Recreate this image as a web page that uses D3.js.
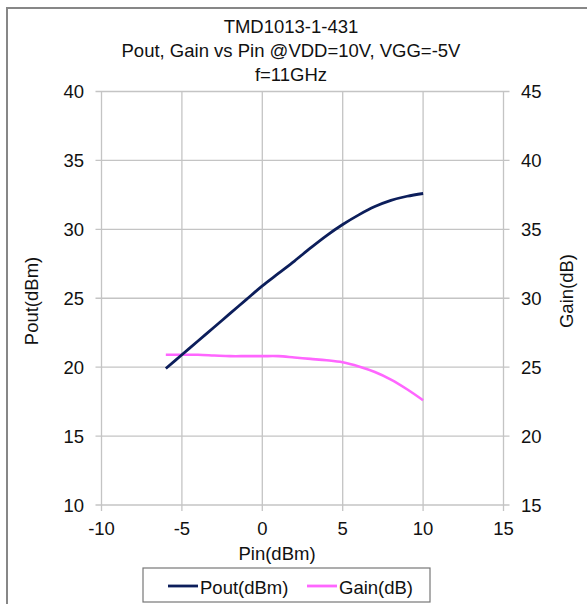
<!DOCTYPE html>
<html>
<head>
<meta charset="utf-8">
<script src="https://cdn.jsdelivr.net/npm/d3@7"></script>
<style>
  body { margin: 0; background: #fff; }
  svg { display: block; font-family: "Liberation Sans", Arial, sans-serif; }
</style>
</head>
<body>
<svg id="chart" width="587" height="604"></svg>
<script>
// values
const pin = [-6, -5, -4, -3, -2, -1, 0, 1, 2, 3, 4, 5, 6, 7, 8, 9, 10];
const pout = [19.9, 20.9, 21.9, 22.9, 23.9, 24.9, 25.9, 26.8, 27.7, 28.65, 29.55, 30.35, 31.05, 31.65, 32.1, 32.4, 32.6];
const gain = [25.9, 25.9, 25.9, 25.85, 25.8, 25.8, 25.8, 25.8, 25.7, 25.6, 25.5, 25.35, 25.05, 24.65, 24.1, 23.4, 22.6];
const xTicks = [-10, -5, 0, 5, 10, 15];
const leftTicks = [10, 15, 20, 25, 30, 35, 40];
const rightTicks = [15, 20, 25, 30, 35, 40, 45];
const titleLines = ['TMD1013-1-431', 'Pout, Gain vs Pin @VDD=10V, VGG=-5V', 'f=11GHz'];
const legendItems = [
  {name: 'Pout(dBm)', color: '#0c1e5b'},
  {name: 'Gain(dB)', color: '#ff66ff'}
];

const svg = d3.select('#chart');
const plot = {left: 101.5, right: 503.5, top: 91.5, bottom: 505};
const fontSize = 18.5;

// chart frame (only top and left edges show in the crop)
svg.append('path')
  .attr('d', `M7,604 V8 H587`)
  .attr('fill', 'none')
  .attr('stroke', '#878787')
  .attr('stroke-width', 2);

const x = d3.scaleLinear().domain([-10, 15]).range([plot.left, plot.right]);
const yL = d3.scaleLinear().domain([10, 40]).range([plot.bottom, plot.top]);
const yR = d3.scaleLinear().domain([15, 45]).range([plot.bottom, plot.top]);

// gridlines
const grid = svg.append('g').attr('stroke', '#c4c4c4').attr('stroke-width', 1.3);
grid.selectAll('line.h').data(leftTicks).join('line')
  .attr('x1', plot.left - 6).attr('x2', plot.right + 6)
  .attr('y1', d => yL(d)).attr('y2', d => yL(d));
grid.selectAll('line.v').data(xTicks).join('line')
  .attr('y1', plot.top).attr('y2', plot.bottom + 6)
  .attr('x1', d => x(d)).attr('x2', d => x(d));

// tick labels
svg.append('g').selectAll('text').data(leftTicks).join('text')
  .attr('x', 84).attr('y', d => yL(d) + 6.5)
  .attr('text-anchor', 'end').attr('font-size', fontSize).attr('fill', '#111')
  .text(d => d);
svg.append('g').selectAll('text').data(rightTicks).join('text')
  .attr('x', 521).attr('y', d => yR(d) + 6.5)
  .attr('text-anchor', 'start').attr('font-size', fontSize).attr('fill', '#111')
  .text(d => d);
svg.append('g').selectAll('text').data(xTicks).join('text')
  .attr('x', d => x(d)).attr('y', 534.5)
  .attr('text-anchor', 'middle').attr('font-size', fontSize).attr('fill', '#111')
  .text(d => d);

// titles
svg.append('g').selectAll('text').data(titleLines).join('text')
  .attr('x', 291).attr('y', (d, i) => 33 + i * 24)
  .attr('text-anchor', 'middle').attr('font-size', fontSize).attr('fill', '#111')
  .text(d => d);
svg.append('text')
  .attr('x', 277).attr('y', 560)
  .attr('text-anchor', 'middle').attr('font-size', fontSize).attr('fill', '#111')
  .text('Pin(dBm)');
svg.append('text')
  .attr('transform', 'translate(38,301) rotate(-90)')
  .attr('text-anchor', 'middle').attr('font-size', fontSize).attr('fill', '#111')
  .text('Pout(dBm)');
svg.append('text')
  .attr('transform', 'translate(573,291) rotate(-90)')
  .attr('text-anchor', 'middle').attr('font-size', fontSize).attr('fill', '#111')
  .text('Gain(dB)');

// series
const poutLine = d3.line().x((d, i) => x(pin[i])).y(d => yL(d)).curve(d3.curveCatmullRom);
const gainLine = d3.line().x((d, i) => x(pin[i])).y(d => yR(d)).curve(d3.curveCatmullRom);

svg.append('path').datum(gain)
  .attr('d', gainLine)
  .attr('fill', 'none').attr('stroke', legendItems[1].color).attr('stroke-width', 2.6);
svg.append('path').datum(pout)
  .attr('d', poutLine)
  .attr('fill', 'none').attr('stroke', legendItems[0].color).attr('stroke-width', 2.8);

// legend
svg.append('rect')
  .attr('x', 143).attr('y', 568).attr('width', 287).attr('height', 34)
  .attr('fill', '#fff').attr('stroke', '#777').attr('stroke-width', 1.2);
const lg = svg.append('g').selectAll('g').data(legendItems).join('g')
  .attr('transform', (d, i) => `translate(${168 + i * 139},587)`);
lg.append('line')
  .attr('x1', 0).attr('x2', 30).attr('y1', -1).attr('y2', -1)
  .attr('stroke', d => d.color).attr('stroke-width', 2.8);
lg.append('text')
  .attr('x', 32).attr('y', 6.5)
  .attr('font-size', fontSize).attr('fill', '#111')
  .text(d => d.name);
</script>
</body>
</html>
